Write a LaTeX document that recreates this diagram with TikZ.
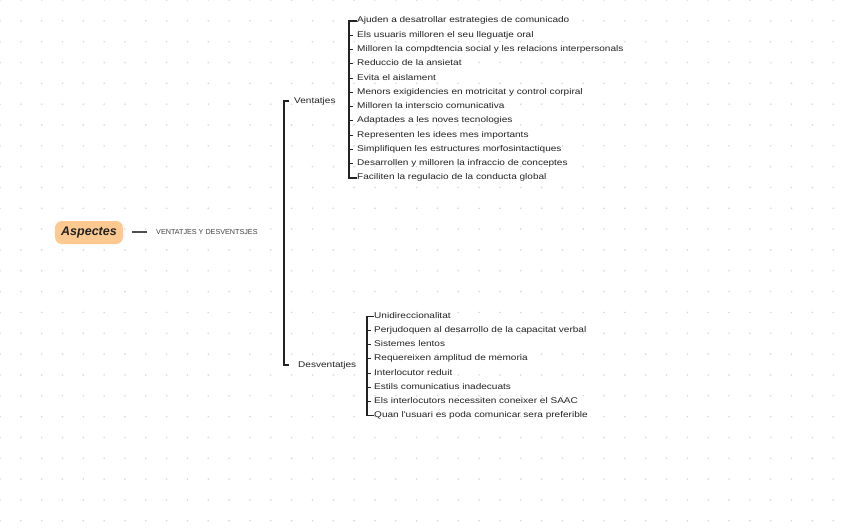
\documentclass[tikz,border=0pt]{standalone}
\usepackage{fontspec}
\setmainfont{Liberation Sans}
\newfontfamily\itemfont[FakeStretch=1.21]{Liberation Sans}
\definecolor{dotc}{HTML}{D8D8D8}
\definecolor{peach}{HTML}{FDC990}
\definecolor{ink}{HTML}{222222}
\begin{document}
\begin{tikzpicture}[x=1pt,y=-1pt,
  item/.style={anchor=west,inner sep=0pt,text height=6pt,text depth=2pt,font=\itemfont\fontsize{8.3}{9}\selectfont,text=ink},
  conn/.style={draw=ink,line width=1.1pt},
  mainconn/.style={draw=ink,line width=1.4pt}]
\useasboundingbox (0,0) rectangle (848,530);
\fill[white] (0,0) rectangle (848,530);
% dot grid
\foreach \i in {0,...,40}{\foreach \j in {0,...,25}{
  \fill[dotc] (\i*20.83,\j*20.83) circle (0.9);}}
% root
\node[fill=peach,rounded corners=7pt,minimum width=68pt,minimum height=23pt,inner sep=0pt,
  font=\bfseries\itshape\fontsize{12.5}{12}\selectfont,text=ink] (root) at (89,232.5) {Aspectes};
\node[anchor=west,inner sep=0pt,text height=5pt,text depth=0pt,font=\fontsize{7.2}{8}\selectfont,text=ink!85] (vd) at (156,232) {VENTATJES Y DESVENTSJES};
\draw[conn,draw=ink!80] (132,232) -- (147,232);
% level 2
\node[item] (vent) at (294,101) {Ventatjes};
\node[item] (desv) at (298,365) {Desventatjes};
\coordinate (b1) at (284,0);
\draw[mainconn] (vent.west) ++(-5,0) -| (b1 |- desv.west) -- ++(5,0);
% ventatjes items
\foreach \t [count=\k] in {
 {Ajuden a desatrollar estrategies de comunicado},
 {Els usuaris milloren el seu lleguatje oral},
 {Milloren la compdtencia social y les relacions interpersonals},
 {Reduccio de la ansietat},
 {Evita el aislament},
 {Menors exigidencies en motricitat y control corpiral},
 {Milloren la interscio comunicativa},
 {Adaptades a les noves tecnologies},
 {Representen les idees mes importants},
 {Simplifiquen les estructures morfosintactiques},
 {Desarrollen y milloren la infraccio de conceptes},
 {Faciliten la regulacio de la conducta global}}{
  \node[item] (v\k) at (357,{21+(\k-1)*14.27}) {\t};
}
\coordinate (b2) at (349,0);
\draw[conn] (v1.west) -- ++(-3,0) -| (b2 |- v12.west) -- (v12.west);
\foreach \k in {2,...,11}{\draw[conn] (b2 |- v\k.west) -- ++(4,0);}
% desventatjes items
\foreach \t [count=\k] in {
 {Unidireccionalitat},
 {Perjudoquen al desarrollo de la capacitat verbal},
 {Sistemes lentos},
 {Requereixen amplitud de memoria},
 {Interlocutor reduit},
 {Estils comunicatius inadecuats},
 {Els interlocutors necessiten coneixer el SAAC},
 {Quan l'usuari es poda comunicar sera preferible}}{
  \node[item] (d\k) at (374,{316.5+(\k-1)*14.14}) {\t};
}
\coordinate (b3) at (367,0);
\draw[conn] (d1.west) -- ++(-3,0) -| (b3 |- d8.west) -- (d8.west);
\foreach \k in {2,...,7}{\draw[conn] (b3 |- d\k.west) -- ++(4,0);}
\end{tikzpicture}
\end{document}
